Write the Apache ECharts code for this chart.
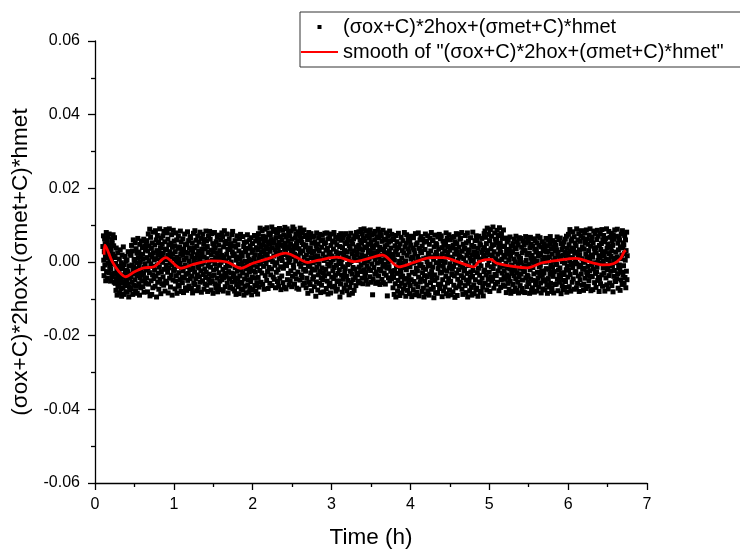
<!DOCTYPE html>
<html>
<head>
<meta charset="utf-8">
<script src="https://cdn.jsdelivr.net/npm/echarts@6/dist/echarts.min.js"></script>
<style>
    html, body { margin: 0; padding: 0; background: #fff; }
    #main { width: 740px; height: 552px; }
</style>
</head>
<body>
<div id="main"></div>
<script>
//图例名称
var scatterName = '(σox+C)*2hox+(σmet+C)*hmet';
var smoothName = 'smooth of "(σox+C)*2hox+(σmet+C)*hmet"';

//坐标轴刻度
var xTicks = [0, 1, 2, 3, 4, 5, 6, 7];
var yTicks = [-0.06, -0.04, -0.02, 0.00, 0.02, 0.04, 0.06];

//散点采样：起始时间(h)与采样间隔(h)
var sampleStart = 0.10;
var sampleStep = 0.0036;

//散点数值（单位 1e-4），每行约 0.05 h
var rawY = [
    42, -18, 71, 5, -37, 28, 63, -8, 50, 17, -51, 34, 80, -26,
    24, 58, -44, 11, 69, -3, 39, -29, 76, 47, -12, 2, 31, -52,
    -20, 35, 9, 61, -41, 52, 22, -6, 74, -33, 44, 15, -55, 66,
    -31, 12, -58, -4, -77, 38, -45, -20, -90, -12, 25, -66, -38, -52,
    -61, -27, 8, -84, -42, 33, -15, -73, -50, -2, -93, -35, 19, -56,
    -18, -70, 41, -39, -88, -7, -55, 15, -64, -30, -47, -81, 2, -23,
    -49, 6, -82, -26, -60, 28, -37, -95, -11, -68, -44, 21, -75, -33,
    -40, 18, -72, 45, -8, -55, 30, -88, -25, 60, -14, -63, 7, -33,
    3, -48, 52, -79, -18, 36, -66, -2, 24, -85, -37, 64, -29, 12,
    -59, 27, -11, -90, 48, -43, 0, -70, 15, -24, 57, -52, -35, 39,
    21, -67, 8, -31, 62, -82, -15, 43, -46, -5, 33, -58, -22, 50,
    -43, 58, 12, -81, 30, -17, 76, -60, 3, 44, -29, 89, -92, 20,
    67, -5, -51, 37, -88, 14, 52, -35, -70, 81, 25, -12, -45, 6,
    -22, 46, -66, 85, 9, -38, 60, -95, 31, -8, 72, -55, 18, -30,
    53, -74, 27, -14, 90, -47, 4, 39, -86, 65, -26, 16, -59, 48,
    -1, 71, -40, 24, -63, 83, 11, -20, 55, -79, 35, -52, 88, -9,
    34, -57, 79, 6, -28, 62, -84, 19, 47, -16, 90, -44, 28, -3,
    -68, 15, 51, -36, 74, -7, -90, 40, 22, -49, 86, -23, 9, 57,
    -19, 44, -73, 28, -52, 79, 1, -37, 60, -85, 13, -11, 37, -62,
    70, -29, 8, -66, 41, -4, -48, 84, 22, -80, 55, -15, 31, -41,
    -56, 18, 63, -24, -83, 35, 5, -43, 76, -9, 47, -70, 26, -33,
    11, -77, 49, -13, 82, -50, 24, -31, 58, -65, 2, 38, -21, 69,
    -45, 66, -8, 33, -72, 15, -38, 52, -84, 27, -17, 78, -58, 4,
    39, -27, 85, -61, 10, -46, 59, -3, -78, 43, 20, -35, 71, -12,
    -69, 29, -16, 54, -40, 7, 81, -55, 17, -24, 64, -82, 35, -6,
    23, -51, 75, -34, -2, 48, -74, 13, 61, -19, -60, 36, -42, 84,
    -28, 57, -63, 9, 42, -80, 26, -10, 70, -47, 1, -33, 83, -57,
    62, -14, 32, -76, 19, -39, 77, -53, 4, 50, -85, 28, -22, 45,
    -36, 80, -5, -59, 38, 12, -71, 55, -18, 25, -44, 67, -81, 8,
    16, -64, 46, -29, 73, -9, -52, 31, -75, 60, -1, -38, 18, 79,
    -48, 6, 68, -20, -79, 41, 14, -42, 85, -31, 53, -67, 3, -15,
    56, -39, 21, 76, -57, -4, 34, -84, 49, -26, 11, 63, -45, -70,
    -11, 37, -68, 50, 0, -30, 74, -54, 27, 83, -73, 17, -40, 44,
    -32, 22, -79, 58, -15, -50, 40, -88, 5, -61, 71, -25, 14, -44,
    47, -67, -6, 30, -86, 63, -38, 9, -55, 75, -21, -73, 25, -2,
    -58, 16, -30, 69, -76, -12, 42, -90, 53, -46, 2, -66, 35, -19,
    28, -84, 55, -35, -3, 74, -62, 18, -48, 37, -81, 7, -27, 60,
    -70, 44, -17, -53, 66, 4, -89, 26, -41, 50, -9, -75, 33, -24,
    11, -43, 72, -64, 20, -28, 57, -80, 0, 39, -56, 64, -13, -87,
    34, -42, 77, 8, -68, 51, 19, -23, 92, -5, 63, -55, 40, 27,
    -30, 85, 14, -61, 46, 70, -12, 31, -74, 58, 3, 89, -37, 22,
    67, -4, 42, -50, 93, 18, -26, 55, -72, 36, 79, -15, 6, 48,
    -58, 29, 74, -35, 10, 61, -19, 95, -64, 39, 1, 52, -41, 83,
    16, 57, -47, 88, -9, 33, -70, 66, 24, -28, 78, -2, 45, -53,
    81, -21, 38, -66, 54, 9, 91, -44, 26, 69, -13, -75, 47, 13,
    -38, 60, 4, 86, -56, 43, -17, 73, 20, -69, 35, 94, -6, 51,
    25, -73, 68, -10, 41, 90, -48, 12, 57, -31, 79, -1, -62, 37,
    71, 7, -52, 49, -24, 84, 28, -67, 62, 15, -39, 95, 32, -8,
    -16, 44, 89, -60, 21, 65, -33, 3, 76, -46, 50, -71, 38, 11,
    58, -27, 17, 82, -74, 36, -5, 71, -49, 92, 24, -12, 64, -35,
    2, 53, -42, 80, 30, -63, 47, -20, 87, 13, -57, 69, -3, 41,
    -25, 46, -70, 19, 72, -44, 5, 61, -85, 33, -12, 80, -55, 27,
    64, -8, -61, 38, -30, 77, 12, -78, 51, -19, 25, -47, 68, -2,
    -40, 29, 70, -67, 2, 55, -22, 14, -93, 43, -54, 79, -14, 35,
    17, -76, 48, -35, 66, -5, 31, -58, 75, -26, 9, -83, 58, -43,
    -63, 40, -16, 73, -48, 22, 60, -29, -81, 4, 50, -38, 78, 13,
    52, -20, 32, -72, 8, 79, -52, 37, -6, -87, 63, -32, 21, -64,
    -11, 69, -57, 26, -84, 45, -1, 76, -41, 16, -68, 57, -24, 6,
    35, -45, 80, -15, 54, -66, 11, -36, 67, -79, 28, -9, 47, -53,
    -74, 18, -31, 62, -51, 3, 72, -21, 42, -95, 24, -60, 77, -4,
    59, -36, 7, -82, 39, -13, 65, -47, 20, 74, -71, 31, -27, 50,
    -18, 77, -62, 14, -39, 53, -78, 28, -7, 61, -50, 10, 70, -89,
    44, -3, -69, 36, -25, 78, 1, -56, 57, -33, 23, -85, 49, -15,
    -48, 63, 15, -77, 30, -19, 71, -42, 6, -64, 41, 80, -30, 19,
    27, -35, 68, 4, -52, 45, 82, -14, 36, -57, 59, 11, -26, 88,
    -8, 51, 20, -44, 76, 33, -59, 12, 64, -21, 90, -2, 41, -37,
    58, -29, 85, 16, -50, 39, -11, 71, 2, -60, 48, 26, -18, 79,
    9, 66, -40, 31, 87, -23, 54, -55, 21, 74, -5, 43, -89, 14,
    -46, 37, 77, -15, 24, 60, -33, 7, 83, -58, 46, -27, 18, 69,
    50, -3, -54, 29, 89, -38, 13, 65, -20, 40, -61, 80, 1, 34,
    -24, 72, 5, -47, 56, 19, -12, 86, -56, 35, 62, -31, 25, -6,
    42, -60, 61, 10, -36, 79, -17, 47, -92, 23, 70, -1, -43, 54,
    -13, 30, 84, -51, 15, 57, -25, 38, 4, -45, 75, 21, -34, 63,
    -70, 16, -42, 61, -88, 5, -23, 44, -59, 28, -95, 72, -12, 35,
    55, -31, -79, 20, -50, 78, -8, 39, -66, 2, -91, 49, -19, -40,
    -27, 67, -58, 10, -84, 31, -38, 58, -4, -73, 24, -47, 80, -15,
    41, -62, 3, -93, 51, -21, 74, -45, 18, -77, 36, -9, 63, -55,
    -36, 27, -86, 57, -13, -64, 46, 8, -48, 70, -94, 13, -28, 38,
    12, -75, 66, -3, -53, 33, -89, 22, -32, 77, -60, 47, -17, 1,
    -82, 52, -24, 15, -67, 79, -41, 6, -92, 37, -10, 60, -54, 29,
    69, -7, -46, 25, -80, 43, -29, 62, -15, -71, 9, -95, 54, -37,
    -52, 34, 76, -20, -87, 11, 56, -63, 0, -40, 71, -78, 21, -11,
    23, -90, 48, -33, 65, -6, -56, 30, -74, 80, -26, 14, -44, 58,
    -14, 59, -69, 7, -97, 41, -35, 73, -50, 19, -83, 50, -2, 26,
    47, -43, 17, -85, 68, -18, -61, 35, -9, 75, -72, 4, -30, 63,
    -60, 10, 71, -28, 39, -94, 22, -48, 57, -11, -79, 45, -22, 1,
    31, -68, -1, 53, -39, 79, -86, 16, -25, 64, -57, 26, -92, 42,
    -45, 74, -16, -76, 32, -5, 60, -53, 13, -89, 38, -34, 67, -20,
    8, -81, 45, -12, -63, 69, -38, 21, -96, 55, -3, -70, 34, 77,
    -30, 50, -91, 27, -47, 5, 75, -21, 40, -66, 17, -55, 62, -8,
    65, -57, 13, -37, 80, -74, 29, -14, -88, 48, -43, 9, -24, 36,
    -19, 38, -64, 72, -2, -83, 52, -49, 18, -31, 79, -95, 25, -58,
    57, -10, -52, 33, -78, 11, -41, 66, -27, 3, -69, 45, -90, 20,
    -39, 81, -23, 6, -62, 42, -86, 28, -7, 58, -48, 15, -75, 71,
    24, -71, 59, -29, 14, -93, 37, -17, 70, -54, 1, -36, 50, -82,
    -56, 46, -11, -80, 26, 64, -44, 8, -68, 33, -92, 19, -26, 77,
    39, -22, 84, -58, 12, 67, -35, 50, -76, 25, 92, -9, 31, -47,
    -63, 75, 4, -28, 58, -80, 19, 88, -41, 36, -13, 70, -52, 45,
    16, -45, 95, -18, 47, -71, 28, -5, 79, -34, 62, -60, 9, 53,
    -37, 60, -2, 86, -55, 21, -24, 72, 40, -78, 3, 93, -14, 33,
    51, -69, 26, -48, 77, 7, -30, 64, -11, 43, -62, 87, 18, -40,
    -24, 42, -66, 13, -47, 65, -3, -83, 30, -35, 54, -15, 22, -58,
    59, -40, 5, -74, 34, -19, 68, -52, 17, -85, 44, -8, -31, 26,
    -12, 28, -61, 50, -80, 8, -37, 62, -23, 38, -70, 1, -46, 70,
    36, -77, 21, -29, 55, -55, -6, 46, -84, 15, -41, 66, -17, 3,
    -64, 10, 64, -33, -2, 40, -72, 25, -49, 57, -20, -81, 33, -10,
    47, -26, -83, 31, -11, 69, -43, 4, 52, -67, 19, -36, 60, -54,
    -39, 57, -7, -59, 24, -85, 39, -21, 67, -46, 11, 48, -76, -1,
    18, -70, 43, -15, -50, 63, -32, 9, -82, 35, -4, 58, -62, 27,
    -53, 33, -79, 52, 2, -28, 70, -44, 16, -68, 45, -13, 23, -38,
    66, -9, -57, 20, -84, 41, -24, 55, -36, 6, -73, 30, -48, 12,
    -30, 50, 12, -76, 37, -52, -1, 64, -18, 27, -63, 44, -85, 7,
    29, -45, 61, -20, -68, 14, 48, -33, 69, -58, -8, 36, -27, -80,
    -71, 22, -14, 58, -39, 3, -84, 40, -26, 53, 10, -61, 31, -5,
    45, -60, 33, -7, 68, -47, 18, -78, 26, -22, 60, -35, -55, 15,
    -16, 65, -42, 8, -86, 50, -29, 34, -64, 1, 42, -75, 19, -50,
    54, -34, -3, -69, 27, 62, -53, 11, -21, 70, -82, 37, -11, 24,
    -41, 18, 75, -22, 47, -67, 3, 88, -34, 29, -79, 57, -8, 38,
    63, -55, 12, -15, 82, -46, 36, -3, 69, -74, 24, -29, 51, 6,
    -26, 44, -70, 90, -5, 27, -58, 60, 15, -38, 77, -13, -80, 33,
    20, -48, 56, -9, 71, -33, 85, -63, 9, 41, -20, 66, -1, -77,
    -60, 35, -17, 79, 1, -44, 53, 22, -72, 87, -28, 14, 62, -36,
    48, -12, -66, 31, -51, 73, 7, -24, 90, -39, 43, -78, 19, 58,
    -7, 68, -40, 13, -75, 52, -19, 84, -2, 37, -56, 26, 76, -31,
    39, -69, 25, -27, 61, -14, 86, -50, 4, 70, -42, 17, -80, 45,
    -47, 11, 77, -59, 34, -4, 50, -35, 88, 21, -66, 59, -16, 2,
    72, -30, 16, 55, -79, 28, -10, 64, -43, 8, 90, -62, 37, -21,
    -18, 49, -73, 6, 83, -37, 23, -57, 67, -6, 42, -25, 15, 78,
    30, -64, 58, -11, 45, -81, 74, 2, -39, 62, -23, 87, -52, 10,
    -53, 27, -2, 70, -45, 14, 89, -32, 51, -71, 33, -15, 65, -8,
    60, -20, -77, 41, 9, -49, 76, -28, 19, -61, 85, 38, -36, 52,
    -10, 46, -58, 23, 72, -42, 5, 60, -70, 31, -25, 81, -48, 17
];

//平滑曲线（时间 h / 数值）
var smoothT = [0.115, 0.125, 0.219, 0.304, 0.389, 0.495, 0.621, 0.748, 0.897, 1.087,
    1.255, 1.467, 1.674, 1.848, 1.995, 2.206, 2.418, 2.545, 2.692, 2.840,
    3.073, 3.284, 3.475, 3.643, 3.855, 4.045, 4.257, 4.426, 4.594, 4.806,
    4.869, 5.018, 5.101, 5.482, 5.672, 5.884, 6.096, 6.286, 6.455, 6.581,
    6.666, 6.708, 6.730];
var smoothY = [0.0020, 0.0046, 0.0001, -0.0026, -0.0040, -0.0027, -0.0016, -0.0013, 0.0012, -0.0017,
    -0.0006, 0.0003, 0.0000, -0.0017, -0.0004, 0.0010, 0.0024, 0.0014, -0.0001, 0.0005,
    0.0013, 0.0001, 0.0010, 0.0019, -0.0013, -0.0001, 0.0012, 0.0012, 0.0001, -0.0013,
    0.0001, 0.0007, -0.0004, -0.0016, -0.0002, 0.0005, 0.0010, -0.0001, -0.0008, -0.0004,
    0.0010, 0.0027, 0.0032];

var myChart = echarts.init(document.getElementById('main'), null, { renderer: 'canvas' });

function buildScatter() {
    var pts = [];
    for (var i = 0; i < rawY.length; i++) {
        pts.push([sampleStart + i * sampleStep, rawY[i] / 10000]);
    }
    return pts;
}

function buildSmooth() {
    var pts = [];
    for (var i = 0; i < smoothT.length; i++) {
        pts.push([smoothT[i], smoothY[i]]);
    }
    return pts;
}

var fontName = 'Liberation Sans, Arial, sans-serif';
var axisStyle = { color: '#000', width: 1.3 };

var option = {
    animation: false,
    backgroundColor: '#ffffff',
    grid: {
        left: 95,
        right: 93,
        top: 41,
        bottom: 69,
        containLabel: false,
        outerBoundsMode: 'none'
    },
    legend: {
        orient: 'vertical',
        left: 300,
        top: 12,
        padding: [4, 24, 4, 0],
        itemGap: 3,
        itemWidth: 37,
        itemHeight: 4,
        borderColor: '#333',
        borderWidth: 1,
        textStyle: {
            fontFamily: fontName,
            fontSize: 20,
            lineHeight: 22,
            color: '#000'
        },
        data: [
            { name: scatterName, icon: 'path://M0,0L1,0L1,1L0,1Z' },
            { name: smoothName, itemStyle: { opacity: 0 } }
        ]
    },
    xAxis: {
        type: 'value',
        min: xTicks[0],
        max: xTicks[xTicks.length - 1],
        interval: 1,
        name: 'Time (h)',
        nameLocation: 'middle',
        nameGap: 43,
        nameTextStyle: { fontFamily: fontName, fontSize: 22.5, color: '#000' },
        axisLine: { onZero: false, lineStyle: axisStyle },
        axisTick: { show: true, inside: false, length: 7, lineStyle: axisStyle },
        minorTick: { show: true, splitNumber: 2, length: 4, lineStyle: axisStyle },
        axisLabel: { fontFamily: fontName, fontSize: 16, color: '#000', margin: 14 },
        splitLine: { show: false }
    },
    yAxis: {
        type: 'value',
        min: yTicks[0],
        max: yTicks[yTicks.length - 1],
        interval: 0.02,
        name: '(σox+C)*2hox+(σmet+C)*hmet',
        nameLocation: 'middle',
        nameGap: 48,
        nameTextStyle: { fontFamily: fontName, fontSize: 22.5, color: '#000' },
        axisLine: { show: true, onZero: false, lineStyle: axisStyle },
        axisTick: { show: true, inside: false, length: 7, lineStyle: axisStyle },
        minorTick: { show: true, splitNumber: 2, length: 4, lineStyle: axisStyle },
        axisLabel: {
            fontFamily: fontName,
            fontSize: 16,
            color: '#000',
            margin: 15,
            formatter: function (v) { return v.toFixed(2); }
        },
        splitLine: { show: false }
    },
    series: [
        {
            name: scatterName,
            type: 'scatter',
            symbol: 'rect',
            symbolSize: 5,
            progressive: 0,
            itemStyle: { color: '#000', opacity: 1 },
            data: buildScatter()
        },
        {
            name: smoothName,
            type: 'line',
            smooth: 0.3,
            symbol: 'none',
            lineStyle: { color: '#ff0000', width: 2.8 },
            itemStyle: { color: '#ff0000' },
            z: 3,
            data: buildSmooth()
        }
    ]
};
myChart.setOption(option);
</script>
</body>
</html>
